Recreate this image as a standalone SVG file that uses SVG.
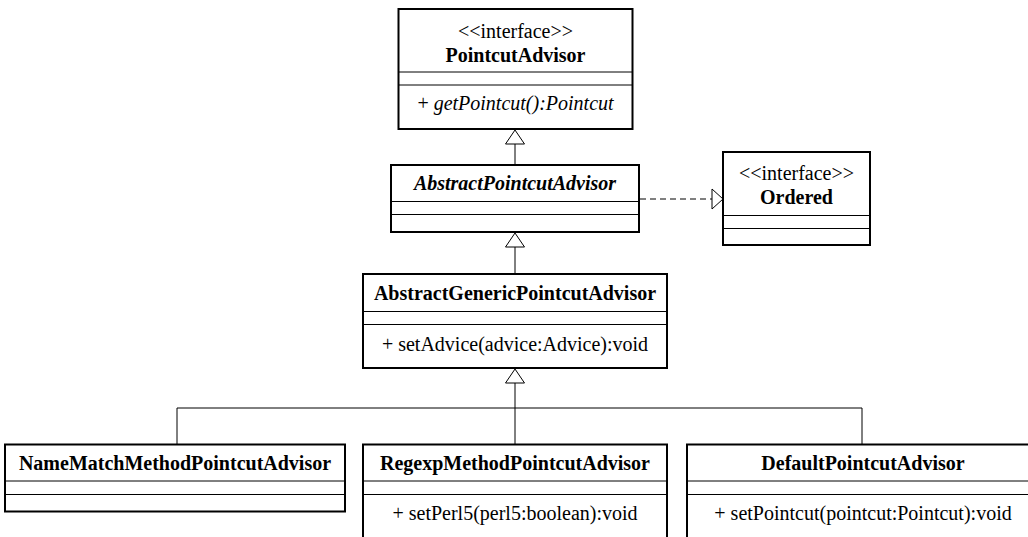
<svg xmlns="http://www.w3.org/2000/svg" width="1028" height="537" viewBox="0 0 1028 537">
  <style>
    .box { fill: #ffffff; stroke: #000000; stroke-width: 2; }
    .div { stroke: #000000; stroke-width: 1; fill: none; }
    .edge { stroke: #000000; stroke-width: 1; fill: none; }
    .dash { stroke-dasharray: 6 4; }
    .head { fill: #ffffff; stroke: #000000; stroke-width: 1; }
    text { font-family: "Liberation Serif", "Times New Roman", serif; font-size: 20px; fill: #000000; text-anchor: middle; }
    .name { font-weight: bold; }
    .abs { font-weight: bold; font-style: italic; }
    .op { font-style: italic; }
  </style>
  <rect width="1028" height="537" fill="#ffffff"/>

  <!-- connectors: generalization and realization -->
  <g id="connectors">
    <!-- AbstractPointcutAdvisor -> PointcutAdvisor -->
    <line class="edge" x1="515" y1="144" x2="515" y2="165"/>
    <polygon class="head" points="515,130 505.5,144 524.5,144"/>
    <!-- AbstractPointcutAdvisor ..> Ordered -->
    <line class="edge dash" x1="640" y1="199" x2="712" y2="199"/>
    <polygon class="head" points="723,199 712,189 712,209"/>
    <!-- AbstractGenericPointcutAdvisor -> AbstractPointcutAdvisor -->
    <line class="edge" x1="515" y1="247" x2="515" y2="274"/>
    <polygon class="head" points="515,233 505.5,247 524.5,247"/>
    <!-- concrete advisors -> AbstractGenericPointcutAdvisor -->
    <polyline class="edge" points="515,383 515,408"/>
    <polyline class="edge" points="177,444 177,408 862,408 862,444"/>
    <line class="edge" x1="515" y1="408" x2="515" y2="444"/>
    <polygon class="head" points="515,369 505.5,383 524.5,383"/>
  </g>

  <g id="PointcutAdvisor">
    <rect class="box" x="398.5" y="9" width="234" height="120"/>
    <line class="div" x1="398.5" y1="72" x2="632.5" y2="72"/>
    <line class="div" x1="398.5" y1="85" x2="632.5" y2="85"/>
    <text x="515.5" y="37.5">&lt;&lt;interface&gt;&gt;</text>
    <text class="name" x="515.5" y="61.5">PointcutAdvisor</text>
    <text x="515.5" y="110">+ <tspan class="op">getPointcut():Pointcut</tspan></text>
  </g>

  <g id="AbstractPointcutAdvisor">
    <rect class="box" x="391" y="165" width="248" height="67"/>
    <line class="div" x1="391" y1="201.5" x2="639" y2="201.5"/>
    <line class="div" x1="391" y1="214.5" x2="639" y2="214.5"/>
    <text class="abs" x="515" y="189.5">AbstractPointcutAdvisor</text>
  </g>

  <g id="Ordered">
    <rect class="box" x="723" y="152" width="147" height="93"/>
    <line class="div" x1="723" y1="215.5" x2="870" y2="215.5"/>
    <line class="div" x1="723" y1="228.5" x2="870" y2="228.5"/>
    <text x="796.5" y="180">&lt;&lt;interface&gt;&gt;</text>
    <text class="name" x="796.5" y="203.5">Ordered</text>
  </g>

  <g id="AbstractGenericPointcutAdvisor">
    <rect class="box" x="363" y="274" width="304" height="94"/>
    <line class="div" x1="363" y1="311.5" x2="667" y2="311.5"/>
    <line class="div" x1="363" y1="324.5" x2="667" y2="324.5"/>
    <text class="name" x="515" y="299.5">AbstractGenericPointcutAdvisor</text>
    <text x="515" y="351">+ setAdvice(advice:Advice):void</text>
  </g>

  <g id="NameMatchMethodPointcutAdvisor">
    <rect class="box" x="5" y="444.5" width="340" height="67"/>
    <line class="div" x1="5" y1="481" x2="345" y2="481"/>
    <line class="div" x1="5" y1="494.5" x2="345" y2="494.5"/>
    <text class="name" x="175" y="470">NameMatchMethodPointcutAdvisor</text>
  </g>

  <g id="RegexpMethodPointcutAdvisor">
    <rect class="box" x="363" y="444.5" width="304" height="110"/>
    <line class="div" x1="363" y1="481" x2="667" y2="481"/>
    <line class="div" x1="363" y1="494.5" x2="667" y2="494.5"/>
    <text class="name" x="515" y="470">RegexpMethodPointcutAdvisor</text>
    <text x="515" y="520">+ setPerl5(perl5:boolean):void</text>
  </g>

  <g id="DefaultPointcutAdvisor">
    <rect class="box" x="687" y="444.5" width="352" height="110"/>
    <line class="div" x1="687" y1="481" x2="1039" y2="481"/>
    <line class="div" x1="687" y1="494.5" x2="1039" y2="494.5"/>
    <text class="name" x="863" y="470">DefaultPointcutAdvisor</text>
    <text x="863" y="520">+ setPointcut(pointcut:Pointcut):void</text>
  </g>
</svg>
